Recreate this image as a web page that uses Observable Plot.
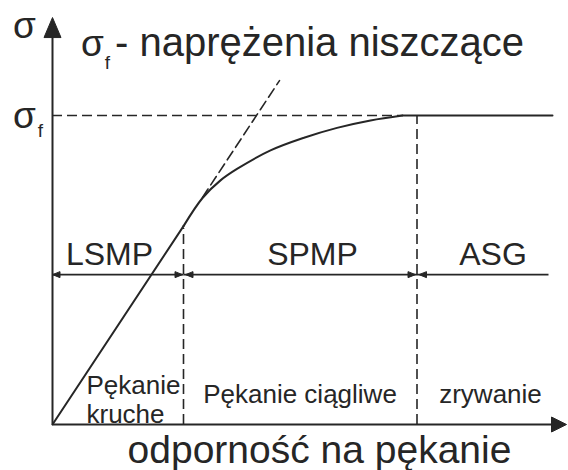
<!DOCTYPE html>
<html>
<head>
<meta charset="utf-8">
<script src="https://cdn.jsdelivr.net/npm/d3@7"></script>
<script src="https://cdn.jsdelivr.net/npm/@observablehq/plot@0.6"></script>
<style>
  html, body { margin: 0; padding: 0; background: #fff; }
  #note { position: absolute; left: 0; top: 0; width: 1px; height: 1px; }
</style>
</head>
<body>
<div id="chart"></div>
<div id="note"></div>
<script>
// ---- data (toughness K on x, stress σ on y, σf = 1) ----
const linearK = [0, 2.62];
const linearS = [0, 0.642];
const curveK = [2.62, 3.0, 3.36, 3.69, 4.36, 5.03, 5.69, 6.36, 7.0];
const curveS = [0.642, 0.733, 0.79, 0.827, 0.887, 0.928, 0.96, 0.984, 1.0];
const plateauK = [7.0, 10.0];
const plateauS = [1.0, 1.0];
const tangentK = [3.0, 4.54];
const tangentS = [0.735, 1.113];
const sigmaF = 1.0;
const boundaries = [2.62, 7.29];
const boundaryTop = [0.634, 1.0];
const dimLevel = 0.485;
const regimeNames = ["LSMP", "SPMP", "ASG"];
const regimeCenters = [1.14, 5.2, 8.81];
const title = "- naprężenia niszczące";
const xLabel = "odporność na pękanie";
const yLabel = "σ";

const ink = "#262626";
const font = "Liberation Sans, Arial, Helvetica, sans-serif";

const toPts = (ks, ss) => ks.map((k, i) => ({k, s: ss[i]}));

// arrowhead symbols (pixel geometry, tip at the anchor point)
const tri = (pts) => ({draw(ctx) { ctx.moveTo(pts[0][0], pts[0][1]); for (let i = 1; i < pts.length; i++) ctx.lineTo(pts[i][0], pts[i][1]); ctx.closePath(); }});
const arrowUp = tri([[0,0],[-8.5,20],[8.5,20]]);
const arrowRight = tri([[0,0],[-15,-7.5],[-15,7.5]]);
const smallRight = tri([[0,0],[-7.5,-3],[-7.5,3]]);
const smallLeft = tri([[0,0],[7.5,-3],[7.5,3]]);

const dimSegs = [
  {a: 0, b: boundaries[0]},
  {a: boundaries[0], b: boundaries[1]},
  {a: boundaries[1], b: 9.92}
];

const textOpts = {x: "x", y: "y", text: "t", fill: ink, fontFamily: font, lineAnchor: "bottom"};
const headOpts = {x: "k", y: "s", fill: ink, stroke: ink, strokeWidth: 1, strokeLinejoin: "miter"};

const chart = Plot.plot({
  width: 568,
  height: 470,
  margin: 0,
  x: {domain: [0, 10], range: [52, 552], axis: null},
  y: {domain: [0, 1], range: [424, 115], axis: null},
  style: {background: "#fff", fontFamily: font},
  marks: [
    // σf dashed level
    Plot.ruleY([sigmaF], {x1: 0, x2: curveK[curveK.length - 1], stroke: ink, strokeWidth: 1.6, strokeDasharray: "10,5"}),
    // regime boundaries
    Plot.ruleX(boundaries.map((b, i) => ({b, top: boundaryTop[i]})), {x: "b", y1: 0, y2: "top", stroke: ink, strokeWidth: 1.6, strokeDasharray: "10,5"}),
    // dashed tangent continuation
    Plot.line(toPts(tangentK, tangentS), {x: "k", y: "s", stroke: ink, strokeWidth: 1.6, strokeDasharray: "10,5"}),
    // curve
    Plot.line(toPts(linearK, linearS), {x: "k", y: "s", stroke: ink, strokeWidth: 2}),
    Plot.line(toPts(curveK, curveS), {x: "k", y: "s", stroke: ink, strokeWidth: 2, curve: "catmull-rom"}),
    Plot.line(toPts(plateauK, plateauS), {x: "k", y: "s", stroke: ink, strokeWidth: 2}),
    // axes
    Plot.link([{x1: 0, y1: 0, x2: 0, y2: 1.26}], {x1: "x1", y1: "y1", x2: "x2", y2: "y2", stroke: ink, strokeWidth: 2}),
    Plot.link([{x1: 0, y1: 0, x2: 10.0, y2: 0}], {x1: "x1", y1: "y1", x2: "x2", y2: "y2", stroke: ink, strokeWidth: 2}),
    // dimension line
    Plot.link(dimSegs, {x1: "a", x2: "b", y1: dimLevel, y2: dimLevel, stroke: ink, strokeWidth: 1.6}),
    // arrowheads
    Plot.dot([{k: 0, s: 1.317}], {...headOpts, symbol: arrowUp}),
    Plot.dot([{k: 10.28, s: 0}], {...headOpts, symbol: arrowRight}),
    Plot.dot([0, boundaries[0] + 0.04, boundaries[1] + 0.04].map(k => ({k, s: dimLevel})), {...headOpts, symbol: smallLeft}),
    Plot.dot([boundaries[0] - 0.02, boundaries[1] - 0.03].map(k => ({k, s: dimLevel})), {...headOpts, symbol: smallRight}),
    // regime names
    Plot.text(regimeNames.map((t, i) => ({t, x: regimeCenters[i], y: 0.515})), {...textOpts, fontSize: 32, textAnchor: "middle"}),
    // descriptions
    Plot.text([{t: "Pękanie", x: 0.68, y: 0.1}, {t: "kruche", x: 0.68, y: 0.006}], {...textOpts, fontSize: 26, textAnchor: "start"}),
    Plot.text([{t: "Pękanie ciągliwe", x: 4.95, y: 0.068}, {t: "zrywanie", x: 8.76, y: 0.068}], {...textOpts, fontSize: 26, textAnchor: "middle"}),
    // axis labels
    Plot.text([{t: xLabel, x: 5.34, y: -0.123}], {...textOpts, fontSize: 39, textAnchor: "middle"}),
    Plot.text([{t: yLabel, x: -0.56, y: 1.252}, {t: "σ", x: -0.56, y: 0.961}], {...textOpts, fontSize: 37, textAnchor: "middle"}),
    Plot.text([{t: "f", x: -0.24, y: 0.929}], {...textOpts, fontSize: 19, textAnchor: "middle"}),
    // title
    Plot.text([{t: "σ", x: 0.8, y: 1.191}], {...textOpts, fontSize: 37, textAnchor: "middle"}),
    Plot.text([{t: "f", x: 1.1, y: 1.152}], {...textOpts, fontSize: 19, textAnchor: "middle"}),
    Plot.text([{t: title, x: 1.25, y: 1.191}], {...textOpts, fontSize: 40, textAnchor: "start"})
  ]
});
document.getElementById("chart").appendChild(chart);
</script>
</body>
</html>
